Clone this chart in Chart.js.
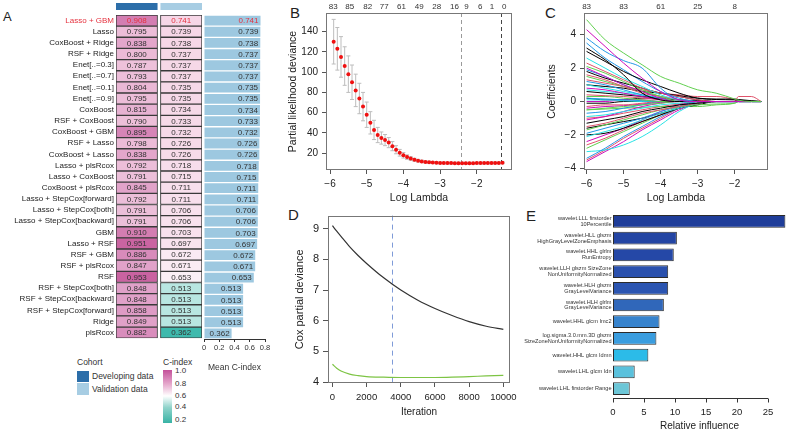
<!DOCTYPE html>
<html>
<head>
<meta charset="utf-8">
<script src="https://cdn.jsdelivr.net/npm/chart.js@4.4.0/dist/chart.umd.min.js"></script>
<style>
body{margin:0;background:#fff;width:788px;height:432px;overflow:hidden;position:relative;font-family:"Liberation Sans",Arial,sans-serif;color:#222}
canvas{position:absolute}
.t{position:absolute;white-space:nowrap;line-height:1}
.box{position:absolute}
</style>
</head>
<body>
<div class="t" style="left:3px;top:10px;font-size:13px">A</div>
<div class="t" style="left:290px;top:5px;font-size:15px">B</div>
<div class="t" style="left:545px;top:5px;font-size:15px">C</div>
<div class="t" style="left:288px;top:207px;font-size:15px">D</div>
<div class="t" style="left:526px;top:208px;font-size:15px">E</div>

<div class="t" style="left:77px;top:358px;font-size:8.5px;color:#333">Cohort</div>
<div class="box" style="left:77px;top:371px;width:12px;height:11px;background:#2c6ea9"></div>
<div class="box" style="left:77px;top:383px;width:12px;height:12px;background:#a7cde3"></div>
<div class="t" style="left:92px;top:372px;font-size:8.5px;color:#333">Developing data</div>
<div class="t" style="left:92px;top:385px;font-size:8.5px;color:#333">Validation data</div>
<div class="t" style="left:163px;top:358px;font-size:8.5px;color:#333">C-index</div>
<div class="box" style="left:163px;top:370px;width:9px;height:53px;background:linear-gradient(to bottom,#c4509a 0%,#e6aacd 27%,#ffffff 49%,#8fd3ca 71%,#38b3a5 100%)"></div>
<div class="t" style="left:175px;top:367px;font-size:8px;color:#333">1.0</div>
<div class="t" style="left:175px;top:380px;font-size:8px;color:#333">0.8</div>
<div class="t" style="left:175px;top:392px;font-size:8px;color:#333">0.6</div>
<div class="t" style="left:175px;top:403px;font-size:8px;color:#333">0.4</div>
<div class="t" style="left:175px;top:416px;font-size:8px;color:#333">0.2</div>

<script>
// ---------- A: model C-index table
const methods = ["Lasso + GBM", "Lasso", "CoxBoost + Ridge", "RSF + Ridge", "Enet[..=0.3]", "Enet[..=0.7]",
  "Enet[..=0.1]", "Enet[..=0.9]", "CoxBoost", "RSF + CoxBoost", "CoxBoost + GBM", "RSF + Lasso",
  "CoxBoost + Lasso", "Lasso + plsRcox", "Lasso + CoxBoost", "CoxBoost + plsRcox", "Lasso + StepCox[forward]",
  "Lasso + StepCox[both]", "Lasso + StepCox[backward]", "GBM", "Lasso + RSF", "RSF + GBM", "RSF + plsRcox",
  "RSF", "RSF + StepCox[both]", "RSF + StepCox[backward]", "RSF + StepCox[forward]", "Ridge", "plsRcox"];
const devC = [0.908, 0.795, 0.838, 0.800, 0.787, 0.793, 0.804, 0.795, 0.815, 0.790, 0.895, 0.798, 0.838, 0.792,
  0.791, 0.845, 0.792, 0.791, 0.791, 0.910, 0.951, 0.886, 0.847, 0.953, 0.848, 0.848, 0.858, 0.849, 0.882];
const valC = [0.741, 0.739, 0.738, 0.737, 0.737, 0.737, 0.735, 0.735, 0.734, 0.733, 0.732, 0.726, 0.726, 0.718,
  0.715, 0.711, 0.711, 0.706, 0.706, 0.703, 0.697, 0.672, 0.671, 0.653, 0.513, 0.513, 0.513, 0.513, 0.362];
const meanC = [0.741, 0.739, 0.738, 0.737, 0.737, 0.737, 0.735, 0.735, 0.734, 0.733, 0.732, 0.726, 0.726, 0.718,
  0.715, 0.711, 0.711, 0.706, 0.706, 0.703, 0.697, 0.672, 0.671, 0.653, 0.513, 0.513, 0.513, 0.513, 0.362];
const meanTicks = [0, 0.2, 0.4, 0.6, 0.8];

// ---------- B: cv deviance vs log lambda
const lamB = [-5.9, -5.8, -5.7, -5.6, -5.5, -5.4, -5.3, -5.2, -5.1, -5.0, -4.9, -4.8, -4.7, -4.6, -4.5, -4.4,
  -4.3, -4.2, -4.1, -4.0, -3.9, -3.8, -3.7, -3.6, -3.5, -3.4, -3.3, -3.2, -3.1, -3.0, -2.9, -2.8, -2.7, -2.6,
  -2.5, -2.4, -2.3, -2.2, -2.1, -2.0, -1.9, -1.8, -1.7, -1.6, -1.5, -1.4, -1.3];
const devB = [130, 123, 115, 106, 98, 90, 82, 74, 66, 58, 50, 43, 38, 35, 33, 30.5, 27, 23.5, 20.5, 18,
  16.2, 14.8, 13.6, 12.7, 12, 11.5, 11.1, 10.8, 10.6, 10.5, 10.4, 10.3, 10.3, 10.2, 10.2, 10.2, 10.2, 10.2,
  10.2, 10.3, 10.3, 10.3, 10.4, 10.4, 10.5, 10.5, 10.6];
const sdB = [22, 21, 20, 19, 18, 17, 16, 15, 14, 12.5, 11, 9.5, 7.5, 6, 5.5, 5, 4.5, 4, 3.3, 2.7, 2.2, 1.8,
  1.5, 1.3, 1.2, 1.1, 1.0, 1.0, 0.9, 0.9, 0.9, 0.9, 0.9, 0.9, 0.9, 0.9, 0.9, 0.9, 0.9, 0.9, 0.9, 0.9, 0.9,
  0.9, 0.9, 0.9, 0.9];
const lamMin = -2.43, lam1se = -1.35;
const nzLamB = [-5.91, -5.46, -4.97, -4.52, -4.05, -3.57, -3.09, -2.61, -2.28, -1.91, -1.59, -1.25];
const nzLabB = ["83", "85", "82", "77", "61", "49", "28", "16", "9", "6", "1", "0"];
const xTicksB = [-6, -5, -4, -3, -2];
const yTicksB = [20, 40, 60, 80, 100, 120, 140];

// ---------- C: coefficient paths
const lamC = [-6, -5.5, -5, -4.5, -4, -3.5, -3, -2.5, -2, -1.9, -1.55, -1.28];
const coefPaths = [
  [4.9, 3.7, 2.9, 2.2, 1.5, 1.1, 0.7, 0.5, 0.15, 0.08, 0, 0],
  [4.3, 3.3, 2.3, 1.4, 0.6, 0.1, 0, 0, 0, 0, 0, 0],
  [3.8, 3.0, 2.45, 2.0, 0.8, 0.1, 0, 0, 0, 0, 0, 0],
  [3.2, 2.5, 1.6, 0.5, 0.1, 0, 0, 0, 0, 0, 0, 0],
  [3.0, 2.4, 1.8, 1.3, 0.9, 0.5, 0.2, 0.12, 0.1, 0.08, 0.03, 0],
  [3.5, 2.6, 1.9, 1.2, 0.6, 0.2, 0, 0, 0, 0, 0, 0],
  [2.6, 2.0, 1.4, 0.9, 0.4, 0.1, 0, 0, 0, 0, 0, 0],
  [2.3, 1.8, 1.3, 0.8, 0.5, 0.3, 0.1, 0, 0, 0.3, 0.3, 0],
  [2.1, 1.7, 1.2, 0.7, 0.3, 0, 0, 0, 0, 0, 0, 0],
  [2.0, 1.5, 1.0, 0.6, 0.2, 0, 0, 0, 0, 0, 0, 0],
  [1.8, 1.4, 1.1, 0.8, 0.5, 0.3, 0.1, 0, 0, 0, 0, 0],
  [1.6, 1.3, 0.9, 0.5, 0.3, 0.1, 0, 0, 0, 0, 0, 0],
  [1.5, 1.2, 0.9, 0.6, 0.3, 0.1, 0, 0, 0, 0, 0, 0],
  [1.2, 1.0, 0.7, 0.4, 0.2, 0, 0, 0, 0, 0, 0, 0],
  [1.0, 0.8, 0.6, 0.4, 0.2, 0, 0, 0, 0, 0, 0, 0],
  [0.8, 0.7, 0.5, 0.3, 0.1, 0, 0, 0, 0, 0, 0, 0],
  [0.6, 0.5, 0.4, 0.3, 0.2, 0.1, 0, 0, 0, 0, 0, 0],
  [0.4, 0.35, 0.3, 0.2, 0.1, 0, 0, 0, 0, 0, 0, 0],
  [0.3, 0.3, 0.2, 0.1, 0, 0, 0, 0, 0, 0, 0, 0],
  [0.2, 0.15, 0.1, 0.05, 0, 0, 0, 0, 0, 0, 0, 0],
  [0.1, 0.1, 0.05, 0, 0, 0, 0, 0, 0, 0, 0, 0],
  [0, 0, 0.1, 0.1, 0, 0, 0, 0, 0, 0, 0, 0],
  [-0.1, -0.1, 0, 0, 0, 0, 0, 0, 0, 0, 0, 0],
  [-0.3, -0.2, -0.2, -0.1, 0, 0, 0, 0, 0, 0, 0, 0],
  [-0.5, -0.4, -0.3, -0.2, -0.1, 0, 0, 0, 0, 0, 0, 0],
  [-0.7, -0.6, -0.4, -0.2, 0, 0, 0, 0, 0, 0, 0, 0],
  [-0.9, -0.8, -0.6, -0.4, -0.2, -0.1, 0, 0, 0, 0, 0, 0],
  [-1.1, -0.9, -0.6, -0.3, -0.1, 0, 0, 0, 0, 0, 0, 0],
  [-1.3, -1.1, -0.9, -0.6, -0.4, -0.2, -0.1, 0, 0, 0, 0, 0],
  [-1.5, -1.3, -1.0, -0.7, -0.5, -0.3, -0.1, 0, 0, 0, 0, 0],
  [-1.7, -1.4, -1.1, -0.8, -0.5, -0.3, -0.2, -0.15, -0.1, 0, 0, 0],
  [-1.9, -1.6, -1.3, -1.0, -0.6, -0.3, 0, 0, 0, 0, 0, 0],
  [-2.1, -1.8, -1.5, -1.1, -0.7, -0.4, -0.1, 0, 0, 0, 0, 0],
  [-2.0, -1.9, -1.6, -1.2, -0.8, -0.4, -0.1, 0, 0, 0, 0, 0],
  [-2.4, -2.0, -1.6, -1.1, -0.6, -0.2, 0, 0, 0, 0, 0, 0],
  [-2.6, -2.2, -1.7, -1.2, -0.8, -0.4, -0.1, 0, 0, 0, 0, 0],
  [-3.4, -2.8, -2.1, -1.5, -0.9, -0.4, 0, 0, 0, 0, 0, 0],
  [-3.0, -2.9, -2.6, -2.1, -1.4, -0.6, -0.1, 0, 0, 0, 0, 0],
  [-3.6, -3.0, -2.4, -1.7, -1.1, -0.5, -0.1, 0, 0, 0, 0, 0],
  [-3.5, -2.9, -2.2, -1.6, -1.0, -0.4, 0, 0, 0, 0, 0, 0],
  [-2.8, -2.3, -1.8, -1.3, -0.8, -0.3, 0, 0, 0, 0, 0, 0],
  [-1.6, -1.4, -1.2, -1.0, -0.7, -0.4, -0.2, 0, 0, 0, 0, 0],
  [-0.5, -0.45, -0.4, -0.35, -0.3, -0.3, -0.3, -0.2, -0.1, 0, 0, 0],
  [1.0, 0.9, 0.8, 0.6, 0.5, 0.35, 0.2, 0.15, 0.15, 0.12, 0.05, 0],
  [1.3, 1.1, 0.9, 0.7, 0.5, 0.4, 0.3, 0.3, 0.1, 0, 0, 0],
  [0.7, 0.6, 0.5, 0.35, 0.2, 0.1, 0, 0, 0, 0, 0, 0],
  [-0.4, -0.3, -0.25, -0.15, -0.05, 0, 0, 0, 0, 0, 0, 0],
  [1.9, 1.5, 1.0, 0.6, 0.3, 0.1, 0, 0, 0, 0, 0, 0],
  [-1.0, -0.9, -0.7, -0.5, -0.3, -0.15, 0, 0, 0, 0, 0, 0],
  [0.2, 0.1, 0.1, 0.2, 0.2, 0.1, 0.05, 0, 0, 0, 0, 0]
];
const coefCol = [2, 5, 3, 0, 0, 3, 4, 1, 2, 5, 0, 1, 2, 3, 4, 5, 0, 1, 2, 3, 4, 5, 0, 1, 2, 3, 4, 5, 0, 1,
  2, 3, 4, 0, 5, 1, 3, 4, 5, 1, 2, 0, 2, 0, 1, 4, 5, 3, 1, 0];
const xTicksC = [-6, -5, -4, -3, -2];
const nzLabC = ["83", "83", "61", "25", "8"];
const yTicksC = [-4, -2, 0, 2, 4];

// ---------- D: boosting deviance
const iterD = [0, 250, 500, 1000, 1500, 2000, 3000, 4000, 5000, 6000, 7000, 8000, 9000, 10000];
const trainDev = [9.1, 8.92, 8.75, 8.42, 8.13, 7.87, 7.40, 7.00, 6.67, 6.40, 6.17, 5.97, 5.82, 5.72];
const cvDev = [4.58, 4.45, 4.36, 4.26, 4.21, 4.18, 4.16, 4.15, 4.15, 4.15, 4.16, 4.18, 4.20, 4.22];
const bestIter = 3460;
const xTicksD = [0, 2000, 4000, 6000, 8000, 10000];
const yTicksD = [4, 5, 6, 7, 8, 9];

// ---------- E: relative influence
const feats = [
  ["wavelet.LLL firstorder", "10Percentile"],
  ["wavelet.HLL glszm", "HighGrayLevelZoneEmphasis"],
  ["wavelet.HHL glrlm", "RunEntropy"],
  ["wavelet.LLH glszm SizeZone", "NonUniformityNormalized"],
  ["wavelet.HLH glszm", "GrayLevelVariance"],
  ["wavelet.HLH glrlm", "GrayLevelVariance"],
  "wavelet.HHL glcm Imc2",
  ["log.sigma.3.0.mm.3D glszm", "SizeZoneNonUniformityNormalized"],
  "wavelet.HHL glcm Idmn",
  "wavelet.LHL glcm Idn",
  "wavelet.LHL firstorder Range"
];
const influence = [27.8, 10.3, 9.8, 8.9, 8.9, 8.2, 7.5, 7.0, 5.7, 3.5, 2.7];
const xTicksE = [0, 5, 10, 15, 20, 25];

// ---------- styles
const FONT = '"Liberation Sans", Arial, sans-serif';
Chart.defaults.font.family = FONT;
Chart.defaults.color = '#222';
Chart.defaults.animation = false;
Chart.defaults.plugins.legend.display = false;
Chart.defaults.plugins.tooltip.enabled = false;

const hiRed = '#e5323f';
const devBlue = '#2c6ea9', valBlue = '#a7cde3';
const palC = ['#000000', '#DF536B', '#61D04F', '#2297E6', '#28E2E5', '#CD0BBC'];
const eColors = ['#1f3d99', '#2445a3', '#2548a7', '#2a50ad', '#2b55b1', '#3067ba', '#3783cd', '#3a9ddf', '#2cbbe8', '#5bc1dc', '#6cc6d7'];

function heatColor(v) {
  const stops = [[0.36, [60, 185, 172]], [0.6, [255, 255, 255]], [0.75, [245, 212, 229]], [0.85, [224, 160, 200]], [0.96, [200, 95, 158]]];
  if (v <= stops[0][0]) return 'rgb(' + stops[0][1].join(',') + ')';
  for (let i = 1; i < stops.length; i++) {
    if (v <= stops[i][0]) {
      const t = (v - stops[i - 1][0]) / (stops[i][0] - stops[i - 1][0]);
      const c = stops[i - 1][1].map((a, k) => Math.round(a + t * (stops[i][1][k] - a)));
      return 'rgb(' + c.join(',') + ')';
    }
  }
  return 'rgb(' + stops[stops.length - 1][1].join(',') + ')';
}

function makeCanvas(l, t, w, h) {
  const c = document.createElement('canvas');
  c.width = w; c.height = h;
  c.style.left = l + 'px'; c.style.top = t + 'px';
  c.style.width = w + 'px'; c.style.height = h + 'px';
  document.body.appendChild(c);
  return c;
}
const setTicks = arr => s => { s.ticks = arr.map(v => ({ value: v })); };
const minus = v => String(v).replace('-', '\u2212');

const boxPlugin = {
  id: 'box',
  afterDraw(chart) {
    const a = chart.chartArea, ctx = chart.ctx;
    ctx.save();
    ctx.strokeStyle = '#777';
    ctx.lineWidth = 1;
    ctx.strokeRect(Math.round(a.left) + 0.5, Math.round(a.top) + 0.5, Math.round(a.right - a.left) - 1, Math.round(a.bottom - a.top) - 1);
    ctx.restore();
  }
};

// ---------- A heat table
const heatText = {
  id: 'heatText',
  afterDatasetsDraw(chart) {
    const ctx = chart.ctx;
    ctx.save();
    ctx.font = '8px ' + FONT;
    ctx.textAlign = 'center';
    ctx.textBaseline = 'middle';
    [[0, devC, devBlue], [2, valC, valBlue]].forEach(([di, vals, head]) => {
      const bars = chart.getDatasetMeta(di).data;
      bars.forEach((b, i) => {
        ctx.fillStyle = i === 0 ? hiRed : '#333';
        ctx.fillText(vals[i].toFixed(3), (b.x + b.base) / 2, b.y + 0.5);
      });
      const b0 = bars[0];
      const top = b0.y - b0.height / 2;
      ctx.fillStyle = head;
      ctx.fillRect(Math.min(b0.base, b0.x), top - 12, Math.abs(b0.x - b0.base), 7);
    });
    ctx.restore();
  }
};

new Chart(makeCanvas(0, 0, 204, 345), {
  type: 'bar',
  data: {
    labels: methods,
    datasets: [
      { data: devC.map(() => 1), backgroundColor: devC.map(heatColor), borderColor: '#3a3a3a', borderWidth: 1, borderSkipped: false },
      { data: devC.map(() => 0.07), backgroundColor: 'rgba(0,0,0,0)', borderWidth: 0 },
      { data: valC.map(() => 1), backgroundColor: valC.map(heatColor), borderColor: '#3a3a3a', borderWidth: 1, borderSkipped: false }
    ]
  },
  options: {
    indexAxis: 'y', responsive: false,
    datasets: { bar: { barPercentage: 1, categoryPercentage: 1 } },
    layout: { padding: { top: 15, bottom: 6, left: 0, right: 2 } },
    scales: {
      x: { display: false, stacked: true, min: 0, max: 2.07 },
      y: {
        stacked: true, afterFit: s => { s.width = 116; },
        grid: { display: false, drawTicks: false }, border: { display: false },
        ticks: { font: { size: 8 }, padding: 2, autoSkip: false, color: c => c.index === 0 ? hiRed : '#222' }
      }
    }
  },
  plugins: [heatText]
});

// ---------- A mean bars
const meanText = {
  id: 'meanText',
  afterDatasetsDraw(chart) {
    const ctx = chart.ctx;
    ctx.save();
    ctx.font = '8px ' + FONT;
    ctx.textAlign = 'right';
    ctx.textBaseline = 'middle';
    chart.getDatasetMeta(0).data.forEach((b, i) => {
      ctx.fillStyle = i === 0 ? hiRed : '#333';
      ctx.fillText(meanC[i].toFixed(3), b.x - 2, b.y + 0.5);
    });
    ctx.restore();
  }
};

new Chart(makeCanvas(196, 0, 84, 373), {
  type: 'bar',
  data: { labels: methods, datasets: [{ data: meanC, backgroundColor: '#9dc8e0', barPercentage: 0.88, categoryPercentage: 1 }] },
  options: {
    indexAxis: 'y', responsive: false,
    layout: { padding: { top: 15, left: 8, right: 15, bottom: 0 } },
    scales: {
      x: {
        min: 0, max: 0.8, afterBuildTicks: setTicks(meanTicks), afterFit: s => { s.height = 34; },
        grid: { drawOnChartArea: false, tickLength: 3, color: '#333' }, border: { display: true, color: '#333' },
        ticks: { font: { size: 7.5 }, padding: 1, color: '#333', autoSkip: false, maxRotation: 0, minRotation: 0,
          callback: v => v === 0 ? '0' : v.toFixed(1) },
        title: { display: true, text: 'Mean C-index', font: { size: 8.5 }, padding: 0, color: '#333' }
      },
      y: { display: false }
    }
  },
  plugins: [meanText]
});

// ---------- B
const errBars = {
  id: 'errBars',
  beforeDatasetsDraw(chart) {
    const { ctx, scales: { x, y }, chartArea: a } = chart;
    ctx.save();
    ctx.strokeStyle = '#bdbdbd';
    ctx.lineWidth = 1;
    lamB.forEach((l, i) => {
      const px = x.getPixelForValue(l);
      const y1 = y.getPixelForValue(devB[i] + sdB[i]);
      const y2 = y.getPixelForValue(devB[i] - sdB[i]);
      ctx.beginPath();
      ctx.moveTo(px, y1); ctx.lineTo(px, y2);
      ctx.moveTo(px - 2, y1); ctx.lineTo(px + 2, y1);
      ctx.moveTo(px - 2, y2); ctx.lineTo(px + 2, y2);
      ctx.stroke();
    });
    ctx.setLineDash([4, 3]);
    [[lamMin, '#9a9a9a'], [lam1se, '#444']].forEach(([l, c]) => {
      const px = Math.round(x.getPixelForValue(l)) + 0.5;
      ctx.strokeStyle = c;
      ctx.beginPath(); ctx.moveTo(px, a.top); ctx.lineTo(px, a.bottom); ctx.stroke();
    });
    ctx.restore();
  }
};

new Chart(makeCanvas(287, 0, 229, 204), {
  type: 'scatter',
  data: { datasets: [{ data: lamB.map((l, i) => ({ x: l, y: devB[i] })), pointRadius: 2, pointBackgroundColor: '#f01010', pointBorderWidth: 0 }] },
  options: {
    responsive: false,
    layout: { padding: { top: 0, left: 0, right: 4, bottom: 0 } },
    scales: {
      x: {
        type: 'linear', min: -6.109, max: -1.041, afterBuildTicks: setTicks(xTicksB), afterFit: s => { s.height = 34; },
        grid: { drawOnChartArea: false, tickLength: 4, color: '#555' }, border: { display: false },
        ticks: { font: { size: 10 }, padding: 4.3, callback: minus },
        title: { display: true, text: 'Log Lambda', font: { size: 10.5 }, padding: 0 }
      },
      xt: {
        type: 'linear', position: 'top', min: -6.109, max: -1.041, afterBuildTicks: setTicks(nzLamB), afterFit: s => { s.height = 13; },
        grid: { display: false, drawTicks: false }, border: { display: false },
        ticks: { font: { size: 8 }, padding: 1.2, autoSkip: false, maxRotation: 0, color: '#333', callback: (v, i) => nzLabB[i] }
      },
      y: {
        min: 3.5, max: 158.3, afterBuildTicks: setTicks(yTicksB), afterFit: s => { s.width = 39; },
        grid: { drawOnChartArea: false, tickLength: 4, color: '#555' }, border: { display: false },
        ticks: { font: { size: 10 }, padding: 4 },
        title: { display: true, text: 'Partial likelihood deviance', font: { size: 10.5 }, padding: 0 }
      }
    }
  },
  plugins: [errBars, boxPlugin]
});

// ---------- C
new Chart(makeCanvas(546, 0, 226, 204), {
  type: 'scatter',
  data: {
    datasets: coefPaths.map((p, k) => ({
      data: lamC.map((l, i) => ({ x: l, y: p[i] })),
      showLine: true, borderColor: palC[coefCol[k]], borderWidth: 1, pointRadius: 0,
      cubicInterpolationMode: 'monotone'
    }))
  },
  options: {
    responsive: false,
    layout: { padding: { top: 0, left: 0, right: 4, bottom: 0 } },
    scales: {
      x: {
        type: 'linear', min: -6.07, max: -1.1, afterBuildTicks: setTicks(xTicksC), afterFit: s => { s.height = 34; },
        grid: { drawOnChartArea: false, tickLength: 4, color: '#555' }, border: { display: false },
        ticks: { font: { size: 10 }, padding: 4.3, callback: minus },
        title: { display: true, text: 'Log Lambda', font: { size: 10.5 }, padding: 0 }
      },
      xt: {
        type: 'linear', position: 'top', min: -6.07, max: -1.1, afterBuildTicks: setTicks(xTicksC), afterFit: s => { s.height = 13; },
        grid: { display: false, drawTicks: false }, border: { display: false },
        ticks: { font: { size: 8 }, padding: 1.2, autoSkip: false, maxRotation: 0, color: '#333', callback: (v, i) => nzLabC[i] }
      },
      y: {
        min: -4.1, max: 5.3, afterBuildTicks: setTicks(yTicksC), afterFit: s => { s.width = 38; },
        grid: { drawOnChartArea: false, tickLength: 4, color: '#555' }, border: { display: false },
        ticks: { font: { size: 10 }, padding: 4, callback: minus },
        title: { display: true, text: 'Coefficients', font: { size: 10.5 }, padding: 0 }
      }
    }
  },
  plugins: [boxPlugin]
});

// ---------- D
const bestLine = {
  id: 'bestLine',
  beforeDatasetsDraw(chart) {
    const { ctx, scales: { x }, chartArea: a } = chart;
    const px = Math.round(x.getPixelForValue(bestIter)) + 0.5;
    ctx.save();
    ctx.strokeStyle = '#7f9bd8';
    ctx.setLineDash([5, 4]);
    ctx.beginPath(); ctx.moveTo(px, a.top); ctx.lineTo(px, a.bottom); ctx.stroke();
    ctx.restore();
  }
};

new Chart(makeCanvas(293, 205, 230, 213), {
  type: 'scatter',
  data: {
    datasets: [
      { data: iterD.map((v, i) => ({ x: v, y: trainDev[i] })), showLine: true, borderColor: '#333', borderWidth: 1.2, pointRadius: 0, cubicInterpolationMode: 'monotone' },
      { data: iterD.map((v, i) => ({ x: v, y: cvDev[i] })), showLine: true, borderColor: '#7dc444', borderWidth: 1.2, pointRadius: 0, cubicInterpolationMode: 'monotone' }
    ]
  },
  options: {
    responsive: false,
    layout: { padding: { top: 10, left: 0, right: 13, bottom: 0 } },
    scales: {
      x: {
        type: 'linear', min: -260, max: 10390, afterBuildTicks: setTicks(xTicksD), afterFit: s => { s.height = 35; },
        grid: { drawOnChartArea: false, tickLength: 4, color: '#555' }, border: { display: false },
        ticks: { font: { size: 9.5 }, padding: 4.3, callback: v => String(v) },
        title: { display: true, text: 'Iteration', font: { size: 10 }, padding: 0 }
      },
      y: {
        min: 3.97, max: 9.43, afterBuildTicks: setTicks(yTicksD), afterFit: s => { s.width = 35; },
        grid: { drawOnChartArea: false, tickLength: 5, color: '#555' }, border: { display: false },
        ticks: { font: { size: 11 }, padding: 4 },
        title: { display: true, text: 'Cox partial deviance', font: { size: 11 }, padding: 0 }
      }
    }
  },
  plugins: [bestLine, boxPlugin]
});

// ---------- E
const eAxis = {
  id: 'eAxis',
  afterDraw(chart) {
    const { ctx, scales: { x }, chartArea: a } = chart;
    const y0 = Math.round(a.bottom) + 1.5;
    ctx.save();
    ctx.strokeStyle = '#333';
    ctx.lineWidth = 1;
    ctx.beginPath();
    ctx.moveTo(x.getPixelForValue(xTicksE[0]), y0);
    ctx.lineTo(x.getPixelForValue(xTicksE[xTicksE.length - 1]), y0);
    xTicksE.forEach(v => {
      const px = Math.round(x.getPixelForValue(v)) + 0.5;
      ctx.moveTo(px, y0); ctx.lineTo(px, y0 + 4);
    });
    ctx.stroke();
    ctx.restore();
  }
};

new Chart(makeCanvas(516, 205, 272, 227), {
  type: 'bar',
  data: {
    labels: feats,
    datasets: [{ data: influence, backgroundColor: eColors, borderColor: '#2b2b2b', borderWidth: 1, borderSkipped: false, barPercentage: 0.76, categoryPercentage: 1 }]
  },
  options: {
    indexAxis: 'y', responsive: false,
    layout: { padding: { top: 8, left: 0, right: 2, bottom: 0 } },
    scales: {
      x: {
        min: 0, max: 27.9, afterBuildTicks: setTicks(xTicksE), afterFit: s => { s.height = 35; },
        grid: { display: false, drawTicks: false }, border: { display: false },
        ticks: { font: { size: 9.5 }, padding: 9.4 },
        title: { display: true, text: 'Relative influence', font: { size: 10 }, padding: 0 }
      },
      y: {
        afterFit: s => { s.width = 97; },
        grid: { display: false, drawTicks: false }, border: { display: false },
        ticks: { font: { size: 5.6, lineHeight: 1.05 }, padding: 1.5, autoSkip: false, color: '#333' }
      }
    }
  },
  plugins: [eAxis]
});
</script>
</body>
</html>
